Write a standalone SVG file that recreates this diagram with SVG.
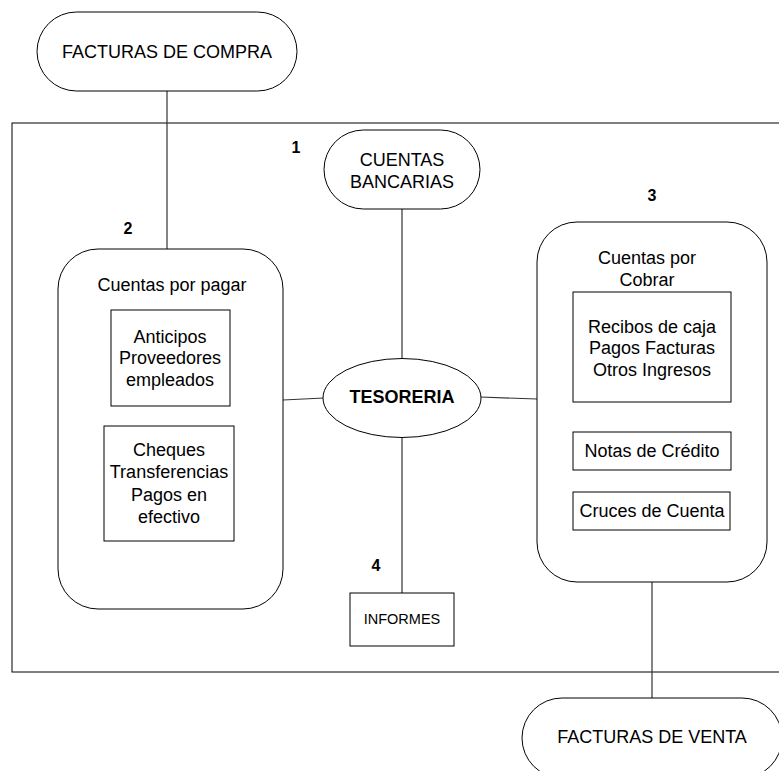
<svg xmlns="http://www.w3.org/2000/svg" width="779" height="771" viewBox="0 0 779 771">
<style>
.s{fill:#fff;stroke:#000;stroke-width:1}
.c{fill:none;stroke:#333;stroke-width:1.2}
text{font-family:"Liberation Sans",Arial,sans-serif;font-size:18px;fill:#000;text-anchor:middle;dominant-baseline:central}
.b{font-weight:bold}
.n{font-weight:bold;font-size:16px}
.sm{font-size:14.5px}
</style>
<rect width="779" height="771" fill="#fff"/>
<g id="frame"><rect class="s" x="12" y="123" width="790" height="549"/></g>
<g id="connectors">
<line class="c" x1="167" y1="91" x2="167" y2="249"/>
<line class="c" x1="402" y1="209" x2="402" y2="358"/>
<line class="c" x1="283" y1="400" x2="324" y2="398"/>
<line class="c" x1="480" y1="397" x2="537" y2="399"/>
<line class="c" x1="402" y1="437" x2="402" y2="593"/>
<line class="c" x1="652" y1="582" x2="652" y2="698"/>
</g>
<g id="facturas-compra"><rect class="s" x="37" y="12" width="260" height="79" rx="39.5"/><text x="167" y="52">FACTURAS DE COMPRA</text></g>
<g id="cuentas-bancarias"><rect class="s" x="324" y="130" width="156" height="79" rx="39.5"/><text x="402" y="160">CUENTAS</text><text x="402" y="182">BANCARIAS</text></g>
<g id="labels"><text class="n" x="296" y="147">1</text><text class="n" x="128" y="228">2</text><text class="n" x="652" y="195">3</text><text class="n" x="376" y="565">4</text></g>
<g id="cuentas-pagar">
<rect class="s" x="58" y="249" width="225" height="360" rx="40"/>
<text x="172" y="285">Cuentas por pagar</text>
<rect class="s" x="111" y="310" width="119" height="96"/>
<text x="170" y="337">Anticipos</text><text x="170" y="358">Proveedores</text><text x="170" y="380">empleados</text>
<rect class="s" x="104" y="426" width="130" height="115"/>
<text x="169" y="450">Cheques</text><text x="169" y="472">Transferencias</text><text x="169" y="495">Pagos en</text><text x="169" y="517">efectivo</text>
</g>
<g id="tesoreria"><ellipse class="s" cx="402" cy="398" rx="79" ry="39.5"/><text class="b" x="402" y="397">TESORERIA</text></g>
<g id="cuentas-cobrar">
<rect class="s" x="537" y="222" width="230" height="360" rx="40"/>
<text x="647" y="258">Cuentas por</text><text x="647" y="280">Cobrar</text>
<rect class="s" x="573" y="292" width="158" height="110"/>
<text x="652" y="327">Recibos de caja</text><text x="652" y="348">Pagos Facturas</text><text x="652" y="370">Otros Ingresos</text>
<rect class="s" x="573" y="432" width="158" height="38"/><text x="652" y="451">Notas de Crédito</text>
<rect class="s" x="573" y="492" width="157" height="38"/><text x="652" y="511">Cruces de Cuenta</text>
</g>
<g id="informes"><rect class="s" x="350" y="593" width="104" height="53"/><text class="sm" x="402" y="619">INFORMES</text></g>
<g id="facturas-venta"><rect class="s" x="522" y="698" width="260" height="80" rx="40"/><text x="652" y="737">FACTURAS DE VENTA</text></g>
</svg>
